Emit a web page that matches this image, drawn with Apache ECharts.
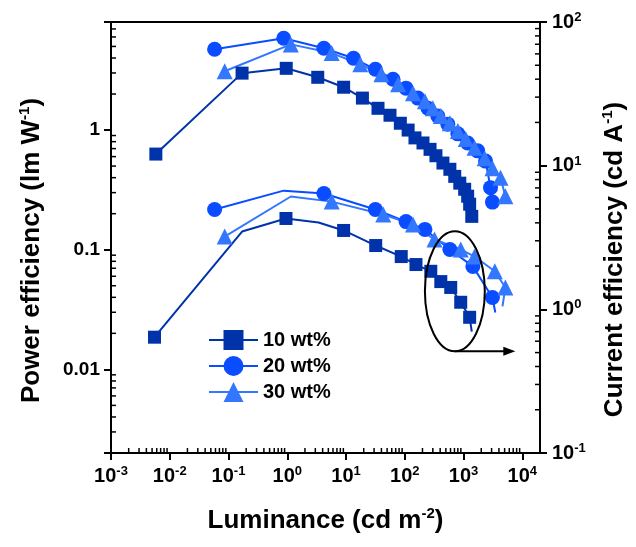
<!DOCTYPE html>
<html>
<head>
<meta charset="utf-8">
<script src="https://cdn.jsdelivr.net/npm/echarts/dist/echarts.min.js"></script>
<style>
  html, body { margin: 0; padding: 0; background: #fff; }
  #chart { width: 636px; height: 547px; }
</style>
</head>
<body>
<div id="chart"></div>
<script>
  // luminance (cd m-2) and efficiency values
  // upper curves -> power efficiency (left axis)
  const pe10Lum = [0.0058, 0.17, 0.96, 3.3, 9.1, 19, 35, 56, 84, 114, 149, 204, 269, 339, 446, 585, 708, 863, 1045, 1175, 1270, 1380];
  const pe10Val = [0.63, 2.99, 3.28, 2.76, 2.28, 1.85, 1.52, 1.33, 1.14, 1.0, 0.86, 0.78, 0.69, 0.61, 0.53, 0.47, 0.41, 0.36, 0.32, 0.28, 0.24, 0.19];

  const pe20Lum = [0.058, 0.87, 4.2, 13.4, 31.6, 63, 105, 167, 248, 365, 540, 800, 1175, 1740, 2370, 2880, 3100];
  const pe20Val = [4.73, 5.85, 4.83, 3.98, 3.22, 2.66, 2.24, 1.85, 1.52, 1.31, 1.12, 0.93, 0.78, 0.67, 0.55, 0.33, 0.25];

  const pe30Lum = [0.086, 1.15, 5.7, 17.5, 40, 77, 138, 220, 300, 410, 585, 800, 1090, 1540, 2290, 3100, 4250, 5150];
  const pe30Val = [3.1, 5.2, 4.4, 3.55, 2.93, 2.42, 2.03, 1.74, 1.52, 1.31, 1.14, 0.98, 0.84, 0.71, 0.58, 0.48, 0.40, 0.28];

  // lower curves -> current efficiency (right axis); 0 in *Mark = point drawn without a symbol
  const ce10Lum = [0.0055, 0.17, 0.95, 3.4, 9.1, 32, 87, 155, 277, 410, 605, 895, 1270, 1380];
  const ce10Val = [0.64, 3.48, 4.29, 4.02, 3.54, 2.78, 2.33, 2.05, 1.84, 1.56, 1.42, 1.12, 0.88, 0.70];
  const ce10Mark = [1, 0, 1, 0, 1, 1, 1, 1, 1, 1, 1, 1, 1, 0];

  const ce20Lum = [0.058, 0.87, 4.2, 31.6, 105, 220, 585, 1440, 3100, 3470];
  const ce20Val = [4.95, 6.7, 6.4, 4.95, 4.08, 3.6, 2.61, 1.99, 1.21, 0.95];
  const ce20Mark = [1, 0, 1, 1, 1, 1, 1, 1, 1, 0];

  const ce30Lum = [0.086, 1.15, 5.7, 43, 138, 320, 895, 1540, 3400, 5150, 4600];
  const ce30Val = [3.21, 6.1, 5.62, 4.57, 3.89, 3.06, 2.61, 2.33, 1.84, 1.42, 1.05];
  const ce30Mark = [1, 0, 1, 1, 1, 1, 1, 1, 1, 1, 0];

  const seriesNames = ['10 wt%', '20 wt%', '30 wt%'];

  // axis ranges
  const X_MIN = 0.001, X_MAX = 20000;
  const PE_MIN = 0.002, PE_MAX = 8;
  const CE_MIN = 0.1, CE_MAX = 100;

  // annotation ellipse (data space, right axis) and arrow end
  const ellipseLum = [220, 2300];
  const ellipseCe = [0.51, 3.5];
  const arrowEndLum = 7600;

  const FONT = '"Liberation Sans", Arial, sans-serif';
  const colors = ['#0033aa', '#0a4cff', '#3377ff'];
  const symbols = ['rect', 'circle', 'triangle'];
  const symbolSizes = [13, 15, 16];

  function toPoints(xs, ys, marks) {
    return xs.map((x, i) => (marks && !marks[i]) ? {value: [x, ys[i]], symbol: 'none'} : [x, ys[i]]);
  }

  function minorTicks(lo, hi) {
    const out = [];
    for (let e = -4; e <= 5; e++) {
      for (let m = 2; m <= 9; m++) {
        const v = Number((m * Math.pow(10, e)).toPrecision(3));
        if (v > lo && v < hi) out.push(v);
      }
    }
    return out;
  }

  function isDecade(v) {
    const l = Math.log10(v);
    return Math.abs(l - Math.round(l)) < 1e-6;
  }

  const supRich = {
    b: {fontSize: 20, fontWeight: 'bold', fontFamily: FONT, color: '#000', lineHeight: 22},
    s: {fontSize: 13, fontWeight: 'bold', fontFamily: FONT, color: '#000', lineHeight: 13, verticalAlign: 'top'}
  };
  const nameRich = {
    t: {fontSize: 26, fontWeight: 'bold', fontFamily: FONT, color: '#000', lineHeight: 30},
    s: {fontSize: 15, fontWeight: 'bold', fontFamily: FONT, color: '#000', lineHeight: 15, verticalAlign: 'top'}
  };

  function powLabel(v) {
    if (!isDecade(v)) return '';
    return '{b|10}{s|' + Math.round(Math.log10(v)) + '}';
  }

  const axisLine = {show: true, lineStyle: {color: '#000', width: 2}};
  const axisTick = {show: true, length: 7, lineStyle: {color: '#000', width: 2}};

  const lineSeries = [];
  const peSets = [[pe10Lum, pe10Val], [pe20Lum, pe20Val], [pe30Lum, pe30Val]];
  const ceSets = [[ce10Lum, ce10Val, ce10Mark], [ce20Lum, ce20Val, ce20Mark], [ce30Lum, ce30Val, ce30Mark]];
  [0, 1, 2].forEach(i => {
    const common = {
      name: seriesNames[i],
      type: 'line',
      symbol: symbols[i],
      symbolSize: symbolSizes[i],
      showAllSymbol: true,
      xAxisIndex: 0,
      lineStyle: {color: colors[i], width: 2},
      itemStyle: {color: colors[i]},
      emphasis: {disabled: true},
      animation: false
    };
    lineSeries.push(Object.assign({}, common, {yAxisIndex: 0, data: toPoints(peSets[i][0], peSets[i][1])}));
    lineSeries.push(Object.assign({}, common, {yAxisIndex: 1, data: toPoints(ceSets[i][0], ceSets[i][1], ceSets[i][2])}));
  });

  // minor ticks point inward, drawn through the axis scales
  function tickSeries(values, yIdx, kind) {
    return {
      type: 'custom',
      xAxisIndex: 0,
      yAxisIndex: yIdx,
      silent: true,
      animation: false,
      clip: false,
      data: values.map(v => kind === 'x' ? [v, PE_MIN] : [kind === 'left' ? X_MIN : X_MAX, v]),
      renderItem: (params, api) => {
        const p = api.coord([api.value(0), api.value(1)]);
        let x2 = p[0], y2 = p[1];
        if (kind === 'x') y2 -= 5;
        else if (kind === 'left') x2 += 5;
        else x2 -= 5;
        return {type: 'line', shape: {x1: p[0], y1: p[1], x2: x2, y2: y2}, style: {stroke: '#000', lineWidth: 1.5}};
      }
    };
  }

  const chart = echarts.init(document.getElementById('chart'));
  chart.setOption({
    animation: false,
    grid: {left: 111, right: 93, top: 22, bottom: 94, show: true, borderColor: '#000', borderWidth: 2, backgroundColor: 'transparent'},
    legend: {
      data: seriesNames,
      left: 203,
      top: 325,
      orient: 'vertical',
      itemWidth: 49,
      itemHeight: 25,
      itemGap: 6,
      textStyle: {fontSize: 20, fontWeight: 'bold', fontFamily: FONT, color: '#000'},
      selectedMode: false
    },
    xAxis: [{
      type: 'log',
      logBase: 10,
      min: X_MIN,
      max: X_MAX,
      name: '{t|Luminance (cd m}{s|-2}{t|)}',
      nameLocation: 'middle',
      nameGap: 53,
      nameTextStyle: {rich: nameRich},
      axisLine: axisLine,
      axisTick: axisTick,
      splitLine: {show: false},
      axisLabel: {margin: 12, formatter: powLabel, rich: supRich, showMaxLabel: false}
    }],
    yAxis: [{
      type: 'log',
      logBase: 10,
      min: PE_MIN,
      max: PE_MAX,
      position: 'left',
      name: '{t|Power efficiency (lm W}{s|-1}{t|)}',
      nameLocation: 'middle',
      nameGap: 64,
      nameTextStyle: {rich: nameRich, padding: [0, 26, 0, 0]},
      axisLine: axisLine,
      axisTick: axisTick,
      splitLine: {show: false},
      axisLabel: {
        margin: 11,
        fontSize: 19,
        fontWeight: 'bold',
        fontFamily: FONT,
        color: '#000',
        formatter: v => {
          if (!isDecade(v)) return '';
          const e = Math.round(Math.log10(v));
          return e >= 0 ? String(Math.pow(10, e)) : '0.' + '0'.repeat(-e - 1) + '1';
        }
      }
    }, {
      type: 'log',
      logBase: 10,
      min: CE_MIN,
      max: CE_MAX,
      position: 'right',
      name: '{t|Current efficiency (cd A}{s|-1}{t|)}',
      nameLocation: 'middle',
      nameGap: 60,
      nameTextStyle: {rich: nameRich, padding: [0, 44, 0, 0]},
      axisLine: axisLine,
      axisTick: axisTick,
      splitLine: {show: false},
      axisLabel: {margin: 12, formatter: powLabel, rich: supRich}
    }],
    series: lineSeries.concat([
      tickSeries(minorTicks(X_MIN, 10000), 0, 'x'),
      tickSeries(minorTicks(PE_MIN, PE_MAX), 0, 'left'),
      tickSeries(minorTicks(CE_MIN, CE_MAX), 1, 'right')
    ])
  });

  // ellipse + arrow annotation, positioned from data values
  const finder = {xAxisIndex: 0, yAxisIndex: 1};
  const pA = chart.convertToPixel(finder, [ellipseLum[0], ellipseCe[1]]);
  const pB = chart.convertToPixel(finder, [ellipseLum[1], ellipseCe[0]]);
  const pEnd = chart.convertToPixel(finder, [arrowEndLum, ellipseCe[0]]);
  const cx = (pA[0] + pB[0]) / 2, cy = (pA[1] + pB[1]) / 2;
  const ay = pB[1];
  chart.setOption({
    graphic: [
      {type: 'ellipse', shape: {cx: cx, cy: cy, rx: (pB[0] - pA[0]) / 2, ry: (pB[1] - pA[1]) / 2}, style: {fill: 'none', stroke: '#000', lineWidth: 2}, z: 10},
      {type: 'line', shape: {x1: cx, y1: ay, x2: pEnd[0] - 8, y2: ay}, style: {stroke: '#000', lineWidth: 2}, z: 10},
      {type: 'polygon', shape: {points: [[pEnd[0], ay], [pEnd[0] - 12, ay - 4.5], [pEnd[0] - 12, ay + 4.5]]}, style: {fill: '#000'}, z: 10}
    ]
  });
</script>
</body>
</html>
